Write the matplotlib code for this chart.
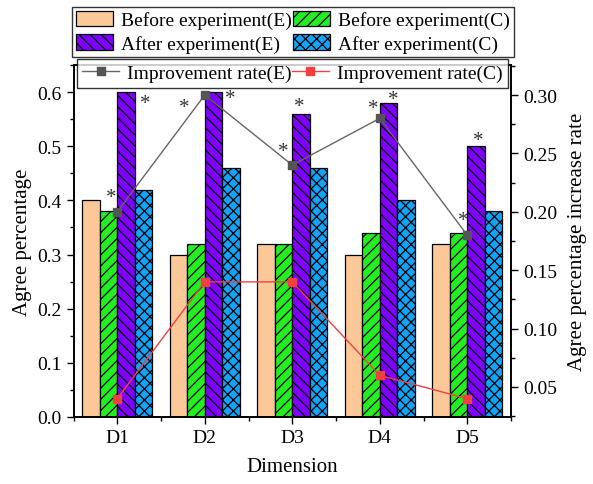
import numpy as np
import matplotlib
matplotlib.use('Agg')
from matplotlib import pyplot as plt
from matplotlib.ticker import MultipleLocator

plt.rcParams['font.family'] = 'Liberation Serif'
plt.rcParams['hatch.linewidth'] = 0.9

dims = ['D1', 'D2', 'D3', 'D4', 'D5']
before_e = [0.40, 0.30, 0.32, 0.30, 0.32]
before_c = [0.38, 0.32, 0.32, 0.34, 0.34]
after_e = [0.60, 0.60, 0.56, 0.58, 0.50]
after_c = [0.42, 0.46, 0.46, 0.40, 0.38]
rate_e = [0.20, 0.30, 0.24, 0.28, 0.18]
rate_c = [0.04, 0.14, 0.14, 0.06, 0.04]
# asterisk marks (x in category units, y on left axis)
star_x = [-0.07, 0.32, 0.77, 1.29, 1.90, 2.08, 2.92, 3.15, 3.95, 4.12]
star_y = [0.405, 0.578, 0.572, 0.588, 0.490, 0.573, 0.570, 0.586, 0.362, 0.510]

x = np.arange(len(dims))
w = 0.2

fig = plt.figure(figsize=(5.93, 4.85), dpi=100)
ax = fig.add_axes([73.5/593, 1-418/485, (511-73.5)/593, (418-66)/485])
ax2 = ax.twinx()

b1 = ax.bar(x-1.5*w, before_e, w, color='#FDC897', edgecolor='black', lw=0.9, label='Before experiment(E)')
b2 = ax.bar(x-0.5*w, before_c, w, color='#22EE22', edgecolor='black', lw=0.9, hatch='///', label='Before experiment(C)')
b3 = ax.bar(x+0.5*w, after_e, w, color='#7F00FF', edgecolor='black', lw=0.9, hatch='\\\\\\', label='After experiment(E)')
b4 = ax.bar(x+1.5*w, after_c, w, color='#12A4F8', edgecolor='black', lw=0.9, hatch='xxx', label='After experiment(C)')

for sx, sy in zip(star_x, star_y):
    ax.text(sx, sy, '*', fontsize=15, ha='center', va='center', color='#333333')

l1, = ax2.plot(x, rate_e, color='#666666', lw=1, marker='s', ms=6, mfc='#555555', mec='#555555', label='Improvement rate(E)')
l2, = ax2.plot(x, rate_c, color='#F04040', lw=1, marker='s', ms=6, mfc='#F04040', mec='#F04040', label='Improvement rate(C)')

ax.set_xlim(-0.5, 4.5)
ax.set_ylim(0, 0.65)
ax2.set_ylim(0.0243, 0.3257)
ax.set_xticks(x)
ax.set_xticklabels(dims)
ax.set_xticks(np.arange(-0.5, 5, 1), minor=True)
ax.yaxis.set_minor_locator(MultipleLocator(0.05))
ax2.yaxis.set_minor_locator(MultipleLocator(0.025))
ax.set_yticks(np.arange(0, 0.61, 0.1))
ax.set_yticklabels(['%.1f' % v for v in np.arange(0, 0.61, 0.1)])
ax2.set_yticks(np.arange(0.05, 0.31, 0.05))
ax2.set_yticklabels(['%.2f' % v for v in np.arange(0.05, 0.31, 0.05)])

for a in (ax, ax2):
    a.tick_params(which='major', direction='out', length=5, width=1, labelsize=14)
    a.tick_params(which='minor', direction='out', length=3, width=1)
    for s in a.spines.values():
        s.set_linewidth(1.2)

ax.set_xlabel('Dimension', fontsize=15, labelpad=8)
ax.set_ylabel('Agree percentage', fontsize=15)
ax2.set_ylabel('Agree percentage increase rate', fontsize=15, labelpad=8)

# row-wise order: matplotlib fills columns first
leg1 = fig.legend(handles=[b1, b3, b2, b4], loc='upper left', bbox_to_anchor=(72/593, 1-8/485),
                  ncol=2, fontsize=14, frameon=True, fancybox=False, edgecolor='black',
                  borderpad=0.2, handlelength=1.9, handleheight=0.85, handletextpad=0.4,
                  columnspacing=0.1, labelspacing=0.25, borderaxespad=0)
leg1.get_frame().set_linewidth(1)
leg2 = fig.legend(handles=[l1, l2], loc='upper left', bbox_to_anchor=(77/593, 1-60/485),
                  ncol=2, fontsize=14, frameon=True, fancybox=False, edgecolor='black',
                  borderpad=0.28, handlelength=1.9, handletextpad=0.4,
                  columnspacing=0.0, borderaxespad=0)
leg2.get_frame().set_linewidth(1)

fig.savefig('out.png', dpi=100)
